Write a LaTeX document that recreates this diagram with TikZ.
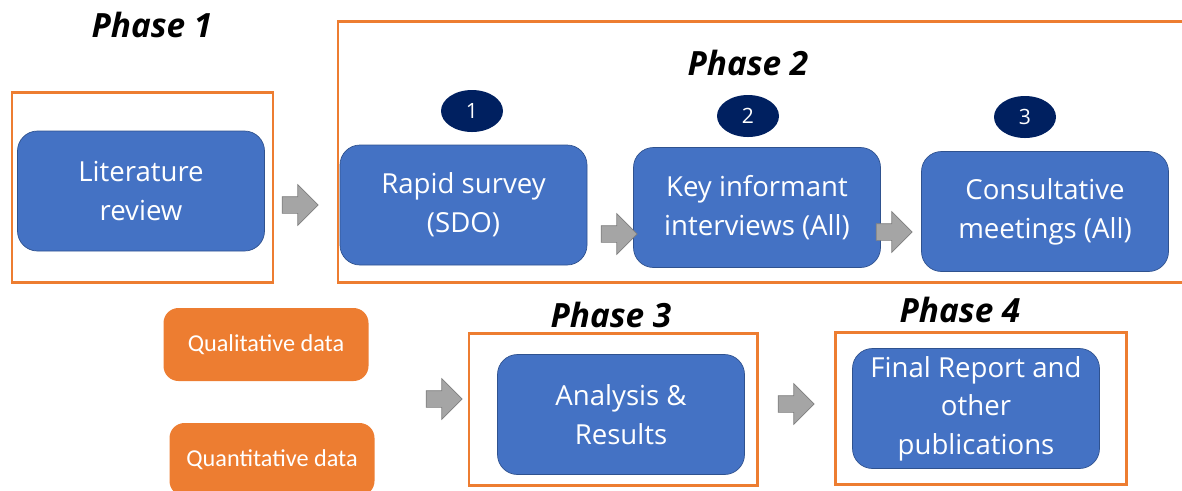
\documentclass[tikz,border=0pt]{standalone}
\usepackage{fontspec}
\setmainfont{Open Sans}
\newfontfamily\calfont{Carlito}
\usetikzlibrary{shapes.geometric,shapes.arrows}

\definecolor{boxblue}{HTML}{4472C4}
\definecolor{boxedge}{HTML}{2F528F}
\definecolor{navy}{HTML}{002060}
\definecolor{phaseorange}{HTML}{ED7D31}
\definecolor{arrowgray}{HTML}{A5A5A5}
\definecolor{arrowedge}{HTML}{7F7F7F}

\begin{document}
\begin{tikzpicture}[align=center]
		% Node styles
		\tikzstyle{process} = [rectangle, draw=boxedge, fill=boxblue, text=white, minimum width=4.94cm, minimum height=2.4cm, rounded corners=0.4cm, font=\fontsize{15.7}{22}\selectfont]
		\tikzstyle{datatype} = [rectangle, fill=phaseorange, text=white, minimum width=4.1cm, minimum height=1.46cm, rounded corners=0.3cm, font=\calfont\fontsize{13.8}{16}\selectfont]
		\tikzstyle{phasebox} = [draw=phaseorange, line width=1.7pt]
		\tikzstyle{phase} = [font=\bfseries\itshape\fontsize{19}{22}\selectfont]
		\tikzstyle{stepnum} = [ellipse, fill=navy, text=white, minimum width=1.24cm, minimum height=0.84cm, inner sep=0pt, font=\fontsize{12}{14}\selectfont]
		\tikzstyle{blockarrow} = [single arrow, draw=arrowedge, fill=arrowgray, minimum height=0.72cm, inner sep=0.16cm, single arrow head extend=0.24cm]
		
		\useasboundingbox (0,0) rectangle (23.64,-9.8);
		\clip (0,0) rectangle (23.64,-9.8);
		
		% Phase frames
		\draw[phasebox] (0.24,-1.84) rectangle (5.46,-5.64);
		\draw[phasebox] (6.76,-0.42) rectangle (24.2,-5.64);
		\draw[phasebox] (9.38,-6.66) rectangle (15.14,-9.70);
		\draw[phasebox] (16.70,-6.64) rectangle (22.52,-9.68);
		
		% Phase labels
		\node[phase] (phaseOne) at (3.04,-0.50) {Phase 1};
		\node[phase] (phaseTwo) at (14.96,-1.26) {Phase 2};
		\node[phase] (phaseThree) at (12.22,-6.30) {Phase 3};
		\node[phase] (phaseFour) at (19.20,-6.20) {Phase 4};
		
		% Nodes
		\node[process] (literatureReview) at (2.82,-3.82) {Literature\\review};
		\node[process] (rapidSurvey) at (9.27,-4.10) {Rapid survey\\(SDO)};
		\node[process] (keyInterviews) at (15.14,-4.15) {Key informant\\interviews (All)};
		\node[process] (consultMeetings) at (20.90,-4.23) {Consultative\\meetings (All)};
		\node[process] (analysisResults) at (12.42,-8.29) {Analysis \&\\Results};
		\node[process] (finalReport) at (19.52,-8.17) {Final Report and\\other\\publications};
		
		\node[stepnum] (stepOne) at (9.44,-2.22) {1};
		\node[stepnum] (stepTwo) at (14.96,-2.32) {2};
		\node[stepnum] (stepThree) at (20.50,-2.34) {3};
		
		\node[datatype] (qualData) at (5.32,-6.89) {Qualitative data};
		\node[datatype] (quantData) at (5.44,-9.19) {Quantitative data};
		
		% Arrows
		\node[blockarrow] (arrowOne) at (5.92,-4.10) {};
		\node[blockarrow] (arrowTwo) at (12.30,-4.68) {};
		\node[blockarrow] (arrowThree) at (17.80,-4.64) {};
		\node[blockarrow] (arrowFour) at (8.80,-7.98) {};
		\node[blockarrow] (arrowFive) at (15.84,-8.08) {};
	\end{tikzpicture}
\end{document}
